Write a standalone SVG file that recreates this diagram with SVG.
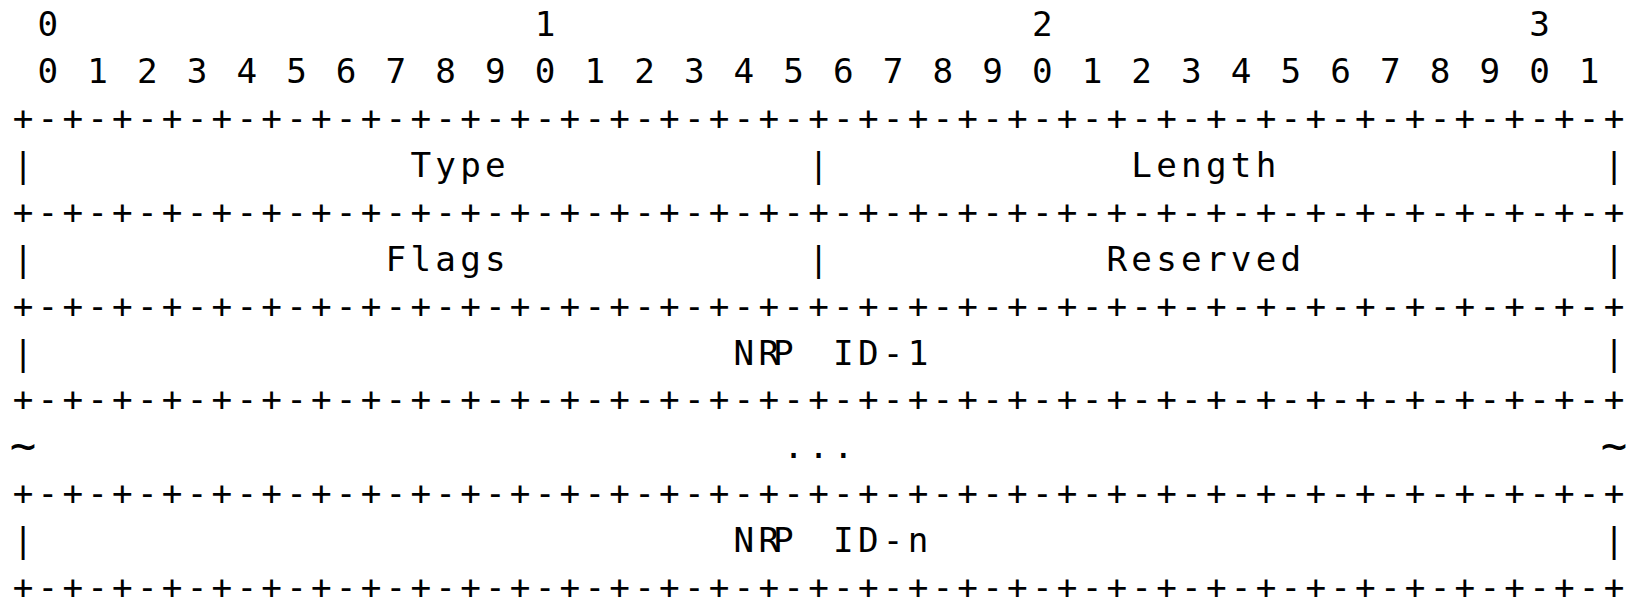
<svg xmlns="http://www.w3.org/2000/svg" xmlns:xlink="http://www.w3.org/1999/xlink" width="1628" height="600" viewBox="0 0 1628 600">
<style>
text{font-family:"DejaVu Sans Mono","Liberation Mono",monospace;font-size:34.3px;fill:#000;text-anchor:middle}
text.tilde{font-size:44px}
</style>
<defs>
<text id="sep" y="0" x="23 47.86 72.72 97.58 122.44 147.3 172.16 197.02 221.88 246.74 271.6 296.46 321.32 346.18 371.04 395.9 420.76 445.62 470.48 495.34 520.2 545.06 569.92 594.78 619.64 644.5 669.36 694.22 719.08 743.94 768.8 793.66 818.52 843.38 868.24 893.1 917.96 942.82 967.68 992.54 1017.4 1042.26 1067.12 1091.98 1116.84 1141.7 1166.56 1191.42 1216.28 1241.14 1266 1290.86 1315.72 1340.58 1365.44 1390.3 1415.16 1440.02 1464.88 1489.74 1514.6 1539.46 1564.32 1589.18 1614.04">+-+-+-+-+-+-+-+-+-+-+-+-+-+-+-+-+-+-+-+-+-+-+-+-+-+-+-+-+-+-+-+-+</text>
</defs>
<rect width="1628" height="600" fill="#fff"/>
<g id="ruler">
<text x="47.86" y="35.85">0</text>
<text x="545.06" y="35.85">1</text>
<text x="1042.26" y="35.85">2</text>
<text x="1539.46" y="35.85">3</text>
<text xml:space="preserve" y="82.8" x="47.86 72.72 97.58 122.44 147.3 172.16 197.02 221.88 246.74 271.6 296.46 321.32 346.18 371.04 395.9 420.76 445.62 470.48 495.34 520.2 545.06 569.92 594.78 619.64 644.5 669.36 694.22 719.08 743.94 768.8 793.66 818.52 843.38 868.24 893.1 917.96 942.82 967.68 992.54 1017.4 1042.26 1067.12 1091.98 1116.84 1141.7 1166.56 1191.42 1216.28 1241.14 1266 1290.86 1315.72 1340.58 1365.44 1390.3 1415.16 1440.02 1464.88 1489.74 1514.6 1539.46 1564.32 1589.18">0 1 2 3 4 5 6 7 8 9 0 1 2 3 4 5 6 7 8 9 0 1 2 3 4 5 6 7 8 9 0 1</text>
</g>
<g id="frame">
<use xlink:href="#sep" href="#sep" y="129.75"/>
<use xlink:href="#sep" href="#sep" y="223.65"/>
<use xlink:href="#sep" href="#sep" y="317.55"/>
<use xlink:href="#sep" href="#sep" y="411.45"/>
<use xlink:href="#sep" href="#sep" y="505.35"/>
<use xlink:href="#sep" href="#sep" y="599.25"/>
<text x="23" y="176.7">|</text>
<text x="818.52" y="176.7">|</text>
<text x="1614.04" y="176.7">|</text>
<text x="23" y="270.6">|</text>
<text x="818.52" y="270.6">|</text>
<text x="1614.04" y="270.6">|</text>
<text x="23" y="364.5">|</text>
<text x="1614.04" y="364.5">|</text>
<text class="tilde" x="23" y="461">~</text>
<text class="tilde" x="1614.04" y="461">~</text>
<text x="23" y="552.3">|</text>
<text x="1614.04" y="552.3">|</text>
</g>
<g id="field-type"><text y="176.7" x="420.76 445.62 470.48 495.34">Type</text></g>
<g id="field-length"><text y="176.7" x="1141.7 1166.56 1191.42 1216.28 1241.14 1266">Length</text></g>
<g id="field-flags"><text y="270.6" x="395.9 420.76 445.62 470.48 495.34">Flags</text></g>
<g id="field-reserved"><text y="270.6" x="1116.84 1141.7 1166.56 1191.42 1216.28 1241.14 1266 1290.86">Reserved</text></g>
<g id="field-nrp-id-1"><text y="364.5"><tspan x="743.94 768.8 793.66">NRP</tspan> <tspan x="843.38 868.24 893.1 917.96">ID-1</tspan></text></g>
<g id="field-more"><text y="458.4" x="793.66 818.52 843.38">...</text></g>
<g id="field-nrp-id-n"><text y="552.3"><tspan x="743.94 768.8 793.66">NRP</tspan> <tspan x="843.38 868.24 893.1 917.96">ID-n</tspan></text></g>
</svg>
